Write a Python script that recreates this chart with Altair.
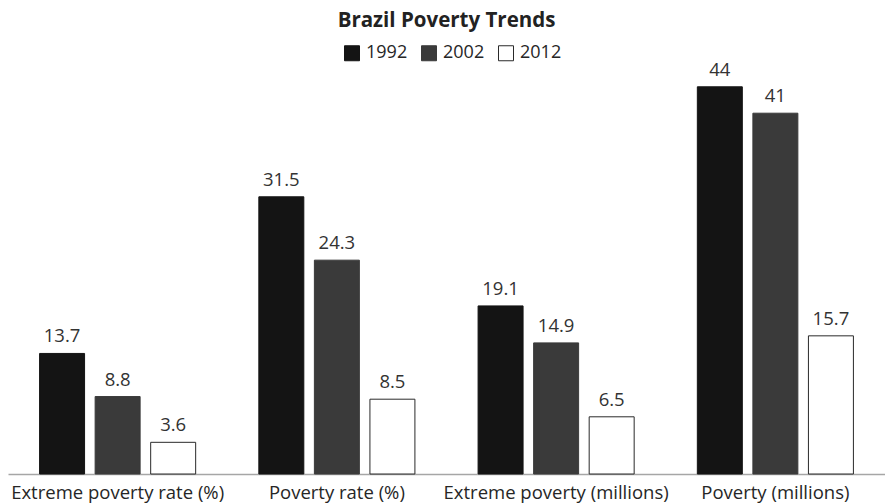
import altair as alt
import pandas as pd

categories = ["Extreme poverty rate (%)", "Poverty rate (%)", "Extreme poverty (millions)", "Poverty (millions)"]
years = ["1992", "2002", "2012"]
v1992 = [13.7, 31.5, 19.1, 44]
v2002 = [8.8, 24.3, 14.9, 41]
v2012 = [3.6, 8.5, 6.5, 15.7]
labels1992 = ["13.7", "31.5", "19.1", "44"]
labels2002 = ["8.8", "24.3", "14.9", "41"]
labels2012 = ["3.6", "8.5", "6.5", "15.7"]

rows = []
for yr, vals, labs in zip(years, [v1992, v2002, v2012], [labels1992, labels2002, labels2012]):
    for c, v, l in zip(categories, vals, labs):
        rows.append({"cat": c, "year": yr, "value": v, "label": l})
df = pd.DataFrame(rows)

FONT = "Open Sans"
fills = ["#141414", "#3a3a3a", "#ffffff"]
strokes = ["#141414", "#3a3a3a", "#2a2a2a"]

base = alt.Chart(df).encode(
    x=alt.X("cat:N", sort=categories,
            scale=alt.Scale(paddingInner=0.24, paddingOuter=0.12),
            axis=alt.Axis(title=None, labelAngle=0, ticks=False, domainColor="#a6a6a6",
                          domainWidth=1.5, labelFontSize=18.5, labelPadding=9, labelColor="#262626",
                          labelFont=FONT, labelLimit=0, labelOverlap=False)),
    xOffset=alt.XOffset("year:N", sort=years, scale=alt.Scale(paddingInner=0.19, paddingOuter=0.095)),
    y=alt.Y("value:Q", scale=alt.Scale(domain=[0, 50]), axis=None),
)

bars = base.mark_bar(strokeWidth=1).encode(
    color=alt.Color("year:N", sort=years, scale=alt.Scale(domain=years, range=fills),
                    legend=alt.Legend(title=None, orient="none", direction="horizontal",
                                      legendX=335, legendY=10, padding=0,
                                      symbolType="square", symbolSize=225,
                                      symbolStrokeColor="#2a2a2a", symbolStrokeWidth=1,
                                      labelFontSize=18, labelFont=FONT, labelColor="#262626",
                                      labelOffset=5, columnPadding=11)),
    stroke=alt.Stroke("year:N", sort=years, scale=alt.Scale(domain=years, range=strokes), legend=None),
)

text = base.mark_text(dy=-11, baseline="alphabetic", fontSize=18.5, font=FONT, color="#333333").encode(
    text="label:N")

chart = (bars + text).properties(
    width=877, height=440,
    padding={"left": 8, "top": 34, "right": 0, "bottom": 29},
    autosize=alt.AutoSizeParams(type="none"),
    title=alt.TitleParams("Brazil Poverty Trends", font=FONT, fontSize=20.5, fontWeight="bold",
                          color="#222222", anchor="middle", offset=3),
).configure_view(stroke=None)

chart.save("out.html", embed_options={"renderer": "svg", "actions": False})
